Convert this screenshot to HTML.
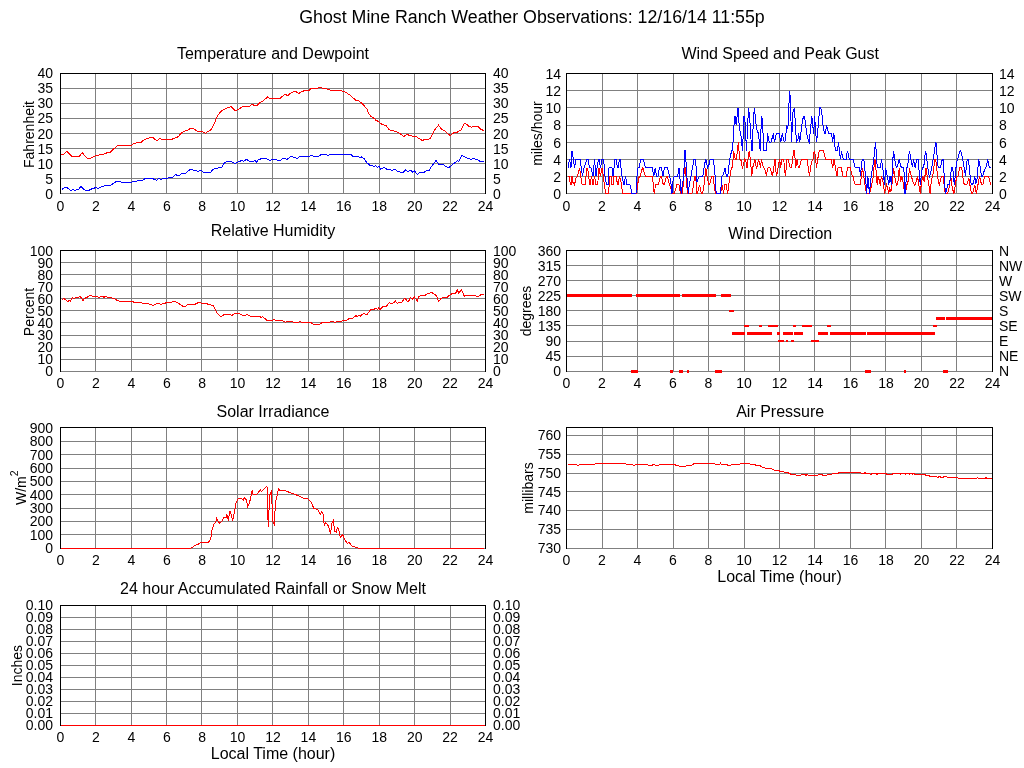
<!DOCTYPE html>
<html><head><meta charset="utf-8"><title>Ghost Mine Ranch Weather Observations</title>
<style>
html,body{margin:0;padding:0;background:#fff;overflow:hidden;width:1024px;height:768px;}
svg{display:block;will-change:transform;}
text{font-family:"Liberation Sans",sans-serif;fill:#000;}
</style></head><body>
<svg width="1024" height="768" viewBox="0 0 1024 768">
<rect x="0" y="0" width="1024" height="768" fill="#ffffff"/>
<rect x="60" y="73" width="426" height="1" fill="#000"/>
<rect x="60" y="73" width="1" height="121" fill="#000"/>
<rect x="485" y="73" width="1" height="121" fill="#000"/>
<rect x="95" y="74" width="1" height="120" fill="#808080"/>
<rect x="131" y="74" width="1" height="120" fill="#808080"/>
<rect x="166" y="74" width="1" height="120" fill="#808080"/>
<rect x="201" y="74" width="1" height="120" fill="#808080"/>
<rect x="237" y="74" width="1" height="120" fill="#808080"/>
<rect x="272" y="74" width="1" height="120" fill="#808080"/>
<rect x="308" y="74" width="1" height="120" fill="#808080"/>
<rect x="343" y="74" width="1" height="120" fill="#808080"/>
<rect x="379" y="74" width="1" height="120" fill="#808080"/>
<rect x="414" y="74" width="1" height="120" fill="#808080"/>
<rect x="450" y="74" width="1" height="120" fill="#808080"/>
<rect x="61" y="193" width="424" height="1" fill="#808080"/>
<rect x="61" y="178" width="424" height="1" fill="#808080"/>
<rect x="61" y="163" width="424" height="1" fill="#808080"/>
<rect x="61" y="148" width="424" height="1" fill="#808080"/>
<rect x="61" y="133" width="424" height="1" fill="#808080"/>
<rect x="61" y="118" width="424" height="1" fill="#808080"/>
<rect x="61" y="103" width="424" height="1" fill="#808080"/>
<rect x="61" y="88" width="424" height="1" fill="#808080"/>
<text x="60.5" y="211" font-size="14" text-anchor="middle">0</text>
<text x="95.9" y="211" font-size="14" text-anchor="middle">2</text>
<text x="131.3" y="211" font-size="14" text-anchor="middle">4</text>
<text x="166.8" y="211" font-size="14" text-anchor="middle">6</text>
<text x="202.2" y="211" font-size="14" text-anchor="middle">8</text>
<text x="237.6" y="211" font-size="14" text-anchor="middle">10</text>
<text x="273.0" y="211" font-size="14" text-anchor="middle">12</text>
<text x="308.4" y="211" font-size="14" text-anchor="middle">14</text>
<text x="343.8" y="211" font-size="14" text-anchor="middle">16</text>
<text x="379.2" y="211" font-size="14" text-anchor="middle">18</text>
<text x="414.7" y="211" font-size="14" text-anchor="middle">20</text>
<text x="450.1" y="211" font-size="14" text-anchor="middle">22</text>
<text x="485.5" y="211" font-size="14" text-anchor="middle">24</text>
<text x="53" y="199" font-size="14" text-anchor="end">0</text>
<text x="493" y="199" font-size="14" text-anchor="start">0</text>
<text x="53" y="184" font-size="14" text-anchor="end">5</text>
<text x="493" y="184" font-size="14" text-anchor="start">5</text>
<text x="53" y="169" font-size="14" text-anchor="end">10</text>
<text x="493" y="169" font-size="14" text-anchor="start">10</text>
<text x="53" y="154" font-size="14" text-anchor="end">15</text>
<text x="493" y="154" font-size="14" text-anchor="start">15</text>
<text x="53" y="139" font-size="14" text-anchor="end">20</text>
<text x="493" y="139" font-size="14" text-anchor="start">20</text>
<text x="53" y="123" font-size="14" text-anchor="end">25</text>
<text x="493" y="123" font-size="14" text-anchor="start">25</text>
<text x="53" y="108" font-size="14" text-anchor="end">30</text>
<text x="493" y="108" font-size="14" text-anchor="start">30</text>
<text x="53" y="93" font-size="14" text-anchor="end">35</text>
<text x="493" y="93" font-size="14" text-anchor="start">35</text>
<text x="53" y="78" font-size="14" text-anchor="end">40</text>
<text x="493" y="78" font-size="14" text-anchor="start">40</text>
<text x="273.0" y="59" font-size="16" text-anchor="middle">Temperature and Dewpoint</text>
<text transform="translate(34.3,134.5) rotate(-90)" font-size="14" text-anchor="middle">Fahrenheit</text>
<polyline points="61.47,154.69 63.81,154.38 66.94,151.25 69.28,153.59 71.62,156.41 79.44,156.41 82.25,152.34 84.91,155.94 87.25,158.59 89.59,158.59 95.06,155.94 99.75,154.84 102.88,154.38 106.00,153.12 110.69,152.03 113.81,148.91 117.72,145.47 131.00,145.47 134.12,143.44 137.25,142.66 141.16,142.19 144.28,139.53 147.41,138.75 149.75,137.50 153.19,137.50 155.22,139.53 157.25,140.62 159.91,138.28 162.25,139.53 170.84,139.53 174.75,138.28 178.66,136.41 181.00,133.28 183.34,131.72 186.47,130.62 190.38,128.59 193.50,128.59 197.41,131.25 202.09,131.41 205.22,133.28 208.34,131.41 211.47,129.38 213.81,124.69 215.69,120.31 216.00,119.44 217.56,115.84 219.91,112.72 222.25,110.38 226.94,108.03 231.31,106.47 233.19,108.81 234.75,110.38 237.09,110.06 239.44,108.81 242.56,106.47 249.59,106.16 251.94,104.12 254.28,105.38 256.94,105.38 259.75,102.56 262.88,101.00 267.56,97.09 269.91,98.34 280.06,98.34 282.41,96.31 284.75,94.28 287.88,95.53 291.00,92.88 294.12,91.31 296.47,91.94 298.81,93.50 301.94,91.62 305.06,90.38 308.97,90.38 311.31,88.50 317.56,88.19 319.91,87.25 322.25,88.19 325.38,88.50 328.50,89.28 330.84,90.53 333.97,90.06 336.31,90.38 340.22,90.53 344.12,91.62 347.25,93.19 350.38,95.53 353.50,98.34 355.84,100.22 358.19,100.22 361.31,102.88 364.44,106.00 366.78,108.81 368.34,112.72 370.69,116.31 373.81,118.19 375.69,119.44 376.00,120.53 378.34,121.31 381.47,124.12 386.16,125.69 389.28,129.91 392.41,130.69 396.31,131.47 400.22,133.81 403.81,136.62 407.25,134.12 409.59,135.84 413.50,136.16 415.84,136.16 418.97,138.50 422.09,140.38 424.44,139.75 427.56,139.75 430.38,138.50 432.25,134.59 434.59,129.91 438.50,125.22 441.62,129.12 444.75,131.00 447.88,134.12 450.22,135.38 453.34,133.03 457.25,132.25 461.16,129.91 464.28,123.19 466.62,124.12 468.97,126.31 471.31,127.25 474.44,126.31 477.56,126.31 480.69,129.12 483.81,130.69" fill="none" stroke="#ff0000" stroke-width="1" shape-rendering="crispEdges"/>
<polyline points="62.25,189.44 64.59,187.25 66.94,187.56 70.84,190.69 73.19,189.44 74.75,190.38 78.66,189.12 81.00,186.31 82.56,188.34 85.69,190.69 88.03,190.69 91.94,188.81 95.84,187.56 98.19,188.34 101.31,186.78 106.00,185.53 109.91,185.53 113.03,183.66 116.16,181.62 120.06,181.62 121.62,182.56 130.22,182.56 132.56,181.62 135.69,181.31 138.81,180.53 141.94,180.53 145.06,178.66 152.88,178.66 156.78,180.53 158.34,178.50 160.69,179.44 163.03,178.50 166.94,178.50 170.06,177.41 172.41,177.41 175.53,174.28 177.09,175.53 179.44,175.38 181.78,173.50 183.34,173.97 185.69,173.19 188.81,170.38 191.16,169.28 193.50,170.38 196.62,170.69 198.19,171.62 199.75,170.38 201.31,170.69 203.66,172.41 210.69,172.41 213.03,169.28 215.69,168.50 216.00,168.19 221.47,167.72 223.81,163.50 226.94,161.62 231.62,161.62 234.44,163.50 237.09,162.41 239.44,161.62 241.78,160.38 243.81,161.16 246.47,159.28 249.59,161.47 253.50,161.16 255.06,160.38 256.62,162.41 258.19,159.59 261.31,158.81 263.66,158.03 267.56,159.28 269.91,160.38 272.25,159.28 276.16,159.59 277.72,160.38 280.06,160.38 283.97,158.03 287.09,159.28 291.00,156.47 294.12,157.25 297.25,158.34 300.38,156.16 302.72,156.94 305.06,156.16 309.75,156.16 311.31,155.38 313.66,156.47 318.34,156.47 321.47,154.44 325.38,154.44 327.72,155.38 330.84,154.12 333.97,154.91 337.09,154.12 340.22,154.91 342.56,154.12 345.69,154.91 348.03,154.12 350.38,154.12 352.72,156.16 358.19,156.47 359.75,158.03 361.31,156.94 364.44,158.81 366.78,162.72 369.12,164.59 370.69,165.84 372.25,165.06 373.81,166.62 375.69,165.84 376.00,165.84 377.56,167.41 379.12,166.31 380.38,169.28 383.81,167.41 386.94,169.28 391.62,170.22 395.53,169.75 397.09,171.31 401.78,172.41 403.34,172.41 405.69,169.75 408.03,171.78 410.38,170.22 412.72,172.09 414.28,170.53 417.41,174.44 419.75,172.41 424.44,172.09 426.78,170.22 429.12,170.22 431.47,166.62 436.16,160.38 438.50,163.97 440.84,165.06 443.19,163.97 444.75,165.84 447.88,167.72 450.22,166.62 453.34,163.50 455.69,162.41 457.25,160.38 458.81,161.62 461.62,155.38 463.50,156.16 466.62,157.72 470.53,159.28 473.66,158.50 476.00,159.28 478.34,160.06 480.69,161.94 483.81,161.47" fill="none" stroke="#0000ff" stroke-width="1" shape-rendering="crispEdges"/>
<rect x="60" y="250" width="426" height="1" fill="#000"/>
<rect x="60" y="250" width="1" height="122" fill="#000"/>
<rect x="485" y="250" width="1" height="122" fill="#000"/>
<rect x="95" y="251" width="1" height="121" fill="#808080"/>
<rect x="131" y="251" width="1" height="121" fill="#808080"/>
<rect x="166" y="251" width="1" height="121" fill="#808080"/>
<rect x="201" y="251" width="1" height="121" fill="#808080"/>
<rect x="237" y="251" width="1" height="121" fill="#808080"/>
<rect x="272" y="251" width="1" height="121" fill="#808080"/>
<rect x="308" y="251" width="1" height="121" fill="#808080"/>
<rect x="343" y="251" width="1" height="121" fill="#808080"/>
<rect x="379" y="251" width="1" height="121" fill="#808080"/>
<rect x="414" y="251" width="1" height="121" fill="#808080"/>
<rect x="450" y="251" width="1" height="121" fill="#808080"/>
<rect x="61" y="371" width="424" height="1" fill="#808080"/>
<rect x="61" y="359" width="424" height="1" fill="#808080"/>
<rect x="61" y="347" width="424" height="1" fill="#808080"/>
<rect x="61" y="335" width="424" height="1" fill="#808080"/>
<rect x="61" y="322" width="424" height="1" fill="#808080"/>
<rect x="61" y="310" width="424" height="1" fill="#808080"/>
<rect x="61" y="298" width="424" height="1" fill="#808080"/>
<rect x="61" y="286" width="424" height="1" fill="#808080"/>
<rect x="61" y="274" width="424" height="1" fill="#808080"/>
<rect x="61" y="262" width="424" height="1" fill="#808080"/>
<text x="60.5" y="388" font-size="14" text-anchor="middle">0</text>
<text x="95.9" y="388" font-size="14" text-anchor="middle">2</text>
<text x="131.3" y="388" font-size="14" text-anchor="middle">4</text>
<text x="166.8" y="388" font-size="14" text-anchor="middle">6</text>
<text x="202.2" y="388" font-size="14" text-anchor="middle">8</text>
<text x="237.6" y="388" font-size="14" text-anchor="middle">10</text>
<text x="273.0" y="388" font-size="14" text-anchor="middle">12</text>
<text x="308.4" y="388" font-size="14" text-anchor="middle">14</text>
<text x="343.8" y="388" font-size="14" text-anchor="middle">16</text>
<text x="379.2" y="388" font-size="14" text-anchor="middle">18</text>
<text x="414.7" y="388" font-size="14" text-anchor="middle">20</text>
<text x="450.1" y="388" font-size="14" text-anchor="middle">22</text>
<text x="485.5" y="388" font-size="14" text-anchor="middle">24</text>
<text x="53" y="376" font-size="14" text-anchor="end">0</text>
<text x="493" y="376" font-size="14" text-anchor="start">0</text>
<text x="53" y="364" font-size="14" text-anchor="end">10</text>
<text x="493" y="364" font-size="14" text-anchor="start">10</text>
<text x="53" y="352" font-size="14" text-anchor="end">20</text>
<text x="493" y="352" font-size="14" text-anchor="start">20</text>
<text x="53" y="340" font-size="14" text-anchor="end">30</text>
<text x="493" y="340" font-size="14" text-anchor="start">30</text>
<text x="53" y="328" font-size="14" text-anchor="end">40</text>
<text x="493" y="328" font-size="14" text-anchor="start">40</text>
<text x="53" y="316" font-size="14" text-anchor="end">50</text>
<text x="493" y="316" font-size="14" text-anchor="start">50</text>
<text x="53" y="304" font-size="14" text-anchor="end">60</text>
<text x="493" y="304" font-size="14" text-anchor="start">60</text>
<text x="53" y="292" font-size="14" text-anchor="end">70</text>
<text x="493" y="292" font-size="14" text-anchor="start">70</text>
<text x="53" y="280" font-size="14" text-anchor="end">80</text>
<text x="493" y="280" font-size="14" text-anchor="start">80</text>
<text x="53" y="268" font-size="14" text-anchor="end">90</text>
<text x="493" y="268" font-size="14" text-anchor="start">90</text>
<text x="53" y="256" font-size="14" text-anchor="end">100</text>
<text x="493" y="256" font-size="14" text-anchor="start">100</text>
<text x="273.0" y="236" font-size="16" text-anchor="middle">Relative Humidity</text>
<text transform="translate(34,312.0) rotate(-90)" font-size="14" text-anchor="middle">Percent</text>
<polyline points="62.25,299.53 63.81,298.44 67.72,301.56 69.28,300.31 70.38,301.56 72.41,297.50 73.97,298.44 76.31,297.19 78.66,297.19 80.22,296.09 82.88,300.62 84.91,298.28 87.25,297.19 90.06,295.16 92.72,296.41 97.41,296.41 98.97,297.50 102.09,296.09 104.12,297.50 105.69,296.09 107.56,297.50 110.69,297.50 114.59,298.75 116.94,300.31 120.06,301.41 132.56,301.41 134.12,302.34 141.16,302.34 142.72,303.44 147.41,303.44 149.75,304.53 152.09,305.00 153.66,305.47 156.78,303.44 159.12,303.44 161.00,304.53 163.81,303.44 166.94,302.66 171.62,302.34 173.97,301.09 177.09,302.34 180.22,304.53 183.34,306.56 184.91,306.56 188.03,304.53 195.06,304.22 198.97,302.34 202.09,303.44 206.78,303.44 208.34,304.53 213.03,305.47 215.38,309.69 216.00,311.25 217.56,313.59 220.69,316.72 224.59,314.38 230.06,314.38 231.62,315.47 235.53,313.28 237.09,314.06 238.66,313.28 242.56,315.47 244.91,315.47 246.94,314.38 250.38,316.41 259.75,316.41 261.31,317.50 262.56,316.41 266.78,320.31 272.25,320.31 273.81,319.38 275.38,320.31 281.62,320.31 283.97,321.41 285.53,322.19 287.88,321.41 291.78,321.41 293.34,322.19 298.81,322.19 300.06,321.09 301.16,322.19 310.53,322.19 313.66,324.53 319.12,324.53 322.25,322.50 329.28,322.19 330.84,321.41 333.19,321.41 334.75,322.50 337.09,321.41 341.00,321.41 343.34,320.31 346.47,320.31 349.59,318.28 352.72,318.28 355.84,315.62 357.41,316.72 358.97,315.16 360.53,316.25 362.09,314.38 364.44,313.59 366.78,314.69 370.69,309.69 373.81,309.69 375.69,308.12 376.00,308.12 377.56,309.69 378.81,307.81 379.91,309.69 383.03,306.56 386.16,306.56 389.28,302.66 391.62,303.44 393.97,302.66 395.53,301.09 397.09,303.44 399.44,302.34 401.78,302.34 404.91,297.97 407.25,301.09 408.81,301.09 410.38,297.50 412.25,299.53 414.28,296.88 417.41,301.09 418.97,296.41 422.88,295.16 424.44,295.62 426.78,294.06 429.12,293.75 431.00,292.03 434.59,294.38 436.94,296.41 438.50,301.09 440.06,300.31 440.84,298.75 443.97,296.88 445.53,297.97 447.09,297.97 448.66,295.62 451.00,294.38 452.56,293.28 455.69,293.28 457.25,289.69 458.81,293.28 461.16,289.69 462.72,292.50 464.28,296.09 468.19,295.31 475.22,295.31 476.78,296.41 479.12,296.09 480.69,294.84 483.81,294.38" fill="none" stroke="#ff0000" stroke-width="1" shape-rendering="crispEdges"/>
<rect x="60" y="427" width="426" height="1" fill="#000"/>
<rect x="60" y="427" width="1" height="122" fill="#000"/>
<rect x="485" y="427" width="1" height="122" fill="#000"/>
<rect x="95" y="428" width="1" height="121" fill="#808080"/>
<rect x="131" y="428" width="1" height="121" fill="#808080"/>
<rect x="166" y="428" width="1" height="121" fill="#808080"/>
<rect x="201" y="428" width="1" height="121" fill="#808080"/>
<rect x="237" y="428" width="1" height="121" fill="#808080"/>
<rect x="272" y="428" width="1" height="121" fill="#808080"/>
<rect x="308" y="428" width="1" height="121" fill="#808080"/>
<rect x="343" y="428" width="1" height="121" fill="#808080"/>
<rect x="379" y="428" width="1" height="121" fill="#808080"/>
<rect x="414" y="428" width="1" height="121" fill="#808080"/>
<rect x="450" y="428" width="1" height="121" fill="#808080"/>
<rect x="61" y="548" width="424" height="1" fill="#808080"/>
<rect x="61" y="534" width="424" height="1" fill="#808080"/>
<rect x="61" y="521" width="424" height="1" fill="#808080"/>
<rect x="61" y="508" width="424" height="1" fill="#808080"/>
<rect x="61" y="494" width="424" height="1" fill="#808080"/>
<rect x="61" y="481" width="424" height="1" fill="#808080"/>
<rect x="61" y="468" width="424" height="1" fill="#808080"/>
<rect x="61" y="454" width="424" height="1" fill="#808080"/>
<rect x="61" y="441" width="424" height="1" fill="#808080"/>
<text x="60.5" y="565" font-size="14" text-anchor="middle">0</text>
<text x="95.9" y="565" font-size="14" text-anchor="middle">2</text>
<text x="131.3" y="565" font-size="14" text-anchor="middle">4</text>
<text x="166.8" y="565" font-size="14" text-anchor="middle">6</text>
<text x="202.2" y="565" font-size="14" text-anchor="middle">8</text>
<text x="237.6" y="565" font-size="14" text-anchor="middle">10</text>
<text x="273.0" y="565" font-size="14" text-anchor="middle">12</text>
<text x="308.4" y="565" font-size="14" text-anchor="middle">14</text>
<text x="343.8" y="565" font-size="14" text-anchor="middle">16</text>
<text x="379.2" y="565" font-size="14" text-anchor="middle">18</text>
<text x="414.7" y="565" font-size="14" text-anchor="middle">20</text>
<text x="450.1" y="565" font-size="14" text-anchor="middle">22</text>
<text x="485.5" y="565" font-size="14" text-anchor="middle">24</text>
<text x="53" y="553" font-size="14" text-anchor="end">0</text>
<text x="53" y="540" font-size="14" text-anchor="end">100</text>
<text x="53" y="526" font-size="14" text-anchor="end">200</text>
<text x="53" y="513" font-size="14" text-anchor="end">300</text>
<text x="53" y="500" font-size="14" text-anchor="end">400</text>
<text x="53" y="486" font-size="14" text-anchor="end">500</text>
<text x="53" y="473" font-size="14" text-anchor="end">600</text>
<text x="53" y="460" font-size="14" text-anchor="end">700</text>
<text x="53" y="446" font-size="14" text-anchor="end">800</text>
<text x="53" y="433" font-size="14" text-anchor="end">900</text>
<text x="273.0" y="417" font-size="16" text-anchor="middle">Solar Irradiance</text>
<text transform="translate(0,488.0) rotate(-90)" font-size="14" text-anchor="middle"></text>
<text transform="translate(26,487.7) rotate(-90)" font-size="14" text-anchor="middle">W/m<tspan font-size="10.5" dy="-8">2</tspan></text>
<polyline points="61.50,548.30 180.00,548.28 190.55,548.28 194.06,546.17 198.75,543.83 200.51,542.42 205.78,542.07 208.12,542.66 209.88,540.31 211.05,536.80 211.64,530.94 213.98,523.91 215.74,522.15 216.56,518.28 218.09,521.56 219.84,523.32 222.19,520.98 223.95,517.46 226.29,517.46 226.88,515.12 228.63,520.62 229.45,511.25 230.39,511.60 232.73,520.39 233.32,517.46 235.08,508.67 235.66,503.40 238.01,498.71 240.35,498.12 243.28,499.88 244.45,497.54 246.21,499.88 247.73,506.33 249.14,503.40 250.90,497.54 251.48,491.68 252.42,490.51 252.89,494.02 256.76,494.61 260.27,489.92 261.45,491.68 266.72,486.41 267.30,487.58 267.66,514.53 268.48,526.84 269.06,508.67 269.65,495.20 271.41,491.68 271.99,503.98 272.58,521.56 274.34,524.49 275.51,501.64 277.27,494.61 278.44,488.52 279.61,490.51 284.30,490.51 290.00,492.50 297.03,495.20 303.48,498.36 307.58,498.36 311.09,502.23 314.02,508.67 317.54,509.26 320.47,514.30 321.64,511.60 323.40,514.53 324.22,525.08 325.74,522.97 327.50,524.14 329.26,528.59 330.43,533.87 331.95,523.32 333.36,520.39 334.53,530.94 336.29,532.34 337.46,527.42 338.63,528.59 339.45,534.45 340.62,537.38 342.73,534.45 344.49,539.14 347.42,543.59 349.18,542.42 352.11,546.17 355.62,547.34 359.14,548.28 409.77,548.28 484.50,548.30" fill="none" stroke="#ff0000" stroke-width="1" shape-rendering="crispEdges"/>
<rect x="60" y="605" width="426" height="1" fill="#000"/>
<rect x="60" y="605" width="1" height="121" fill="#000"/>
<rect x="485" y="605" width="1" height="121" fill="#000"/>
<rect x="95" y="606" width="1" height="120" fill="#808080"/>
<rect x="131" y="606" width="1" height="120" fill="#808080"/>
<rect x="166" y="606" width="1" height="120" fill="#808080"/>
<rect x="201" y="606" width="1" height="120" fill="#808080"/>
<rect x="237" y="606" width="1" height="120" fill="#808080"/>
<rect x="272" y="606" width="1" height="120" fill="#808080"/>
<rect x="308" y="606" width="1" height="120" fill="#808080"/>
<rect x="343" y="606" width="1" height="120" fill="#808080"/>
<rect x="379" y="606" width="1" height="120" fill="#808080"/>
<rect x="414" y="606" width="1" height="120" fill="#808080"/>
<rect x="450" y="606" width="1" height="120" fill="#808080"/>
<rect x="61" y="725" width="424" height="1" fill="#808080"/>
<rect x="61" y="713" width="424" height="1" fill="#808080"/>
<rect x="61" y="701" width="424" height="1" fill="#808080"/>
<rect x="61" y="689" width="424" height="1" fill="#808080"/>
<rect x="61" y="677" width="424" height="1" fill="#808080"/>
<rect x="61" y="665" width="424" height="1" fill="#808080"/>
<rect x="61" y="653" width="424" height="1" fill="#808080"/>
<rect x="61" y="641" width="424" height="1" fill="#808080"/>
<rect x="61" y="629" width="424" height="1" fill="#808080"/>
<rect x="61" y="617" width="424" height="1" fill="#808080"/>
<text x="60.5" y="742" font-size="14" text-anchor="middle">0</text>
<text x="95.9" y="742" font-size="14" text-anchor="middle">2</text>
<text x="131.3" y="742" font-size="14" text-anchor="middle">4</text>
<text x="166.8" y="742" font-size="14" text-anchor="middle">6</text>
<text x="202.2" y="742" font-size="14" text-anchor="middle">8</text>
<text x="237.6" y="742" font-size="14" text-anchor="middle">10</text>
<text x="273.0" y="742" font-size="14" text-anchor="middle">12</text>
<text x="308.4" y="742" font-size="14" text-anchor="middle">14</text>
<text x="343.8" y="742" font-size="14" text-anchor="middle">16</text>
<text x="379.2" y="742" font-size="14" text-anchor="middle">18</text>
<text x="414.7" y="742" font-size="14" text-anchor="middle">20</text>
<text x="450.1" y="742" font-size="14" text-anchor="middle">22</text>
<text x="485.5" y="742" font-size="14" text-anchor="middle">24</text>
<text x="53" y="730" font-size="14" text-anchor="end">0.00</text>
<text x="493" y="730" font-size="14" text-anchor="start">0.00</text>
<text x="53" y="718" font-size="14" text-anchor="end">0.01</text>
<text x="493" y="718" font-size="14" text-anchor="start">0.01</text>
<text x="53" y="706" font-size="14" text-anchor="end">0.02</text>
<text x="493" y="706" font-size="14" text-anchor="start">0.02</text>
<text x="53" y="694" font-size="14" text-anchor="end">0.03</text>
<text x="493" y="694" font-size="14" text-anchor="start">0.03</text>
<text x="53" y="682" font-size="14" text-anchor="end">0.04</text>
<text x="493" y="682" font-size="14" text-anchor="start">0.04</text>
<text x="53" y="670" font-size="14" text-anchor="end">0.05</text>
<text x="493" y="670" font-size="14" text-anchor="start">0.05</text>
<text x="53" y="658" font-size="14" text-anchor="end">0.06</text>
<text x="493" y="658" font-size="14" text-anchor="start">0.06</text>
<text x="53" y="646" font-size="14" text-anchor="end">0.07</text>
<text x="493" y="646" font-size="14" text-anchor="start">0.07</text>
<text x="53" y="634" font-size="14" text-anchor="end">0.08</text>
<text x="493" y="634" font-size="14" text-anchor="start">0.08</text>
<text x="53" y="622" font-size="14" text-anchor="end">0.09</text>
<text x="493" y="622" font-size="14" text-anchor="start">0.09</text>
<text x="53" y="610" font-size="14" text-anchor="end">0.10</text>
<text x="493" y="610" font-size="14" text-anchor="start">0.10</text>
<text x="273.0" y="594" font-size="16" text-anchor="middle">24 hour Accumulated Rainfall or Snow Melt</text>
<text transform="translate(21.7,665.5) rotate(-90)" font-size="14" text-anchor="middle">Inches</text>
<text x="273.0" y="759" font-size="16" text-anchor="middle">Local Time (hour)</text>
<rect x="61" y="725" width="424" height="1" fill="#ff0000"/>
<rect x="566" y="73" width="427" height="1" fill="#000"/>
<rect x="566" y="73" width="1" height="121" fill="#000"/>
<rect x="992" y="73" width="1" height="121" fill="#000"/>
<rect x="602" y="74" width="1" height="120" fill="#808080"/>
<rect x="637" y="74" width="1" height="120" fill="#808080"/>
<rect x="673" y="74" width="1" height="120" fill="#808080"/>
<rect x="708" y="74" width="1" height="120" fill="#808080"/>
<rect x="744" y="74" width="1" height="120" fill="#808080"/>
<rect x="779" y="74" width="1" height="120" fill="#808080"/>
<rect x="814" y="74" width="1" height="120" fill="#808080"/>
<rect x="850" y="74" width="1" height="120" fill="#808080"/>
<rect x="885" y="74" width="1" height="120" fill="#808080"/>
<rect x="921" y="74" width="1" height="120" fill="#808080"/>
<rect x="956" y="74" width="1" height="120" fill="#808080"/>
<rect x="567" y="193" width="425" height="1" fill="#808080"/>
<rect x="567" y="176" width="425" height="1" fill="#808080"/>
<rect x="567" y="159" width="425" height="1" fill="#808080"/>
<rect x="567" y="142" width="425" height="1" fill="#808080"/>
<rect x="567" y="125" width="425" height="1" fill="#808080"/>
<rect x="567" y="107" width="425" height="1" fill="#808080"/>
<rect x="567" y="90" width="425" height="1" fill="#808080"/>
<text x="566.5" y="211" font-size="14" text-anchor="middle">0</text>
<text x="602.0" y="211" font-size="14" text-anchor="middle">2</text>
<text x="637.5" y="211" font-size="14" text-anchor="middle">4</text>
<text x="673.0" y="211" font-size="14" text-anchor="middle">6</text>
<text x="708.5" y="211" font-size="14" text-anchor="middle">8</text>
<text x="744.0" y="211" font-size="14" text-anchor="middle">10</text>
<text x="779.5" y="211" font-size="14" text-anchor="middle">12</text>
<text x="815.0" y="211" font-size="14" text-anchor="middle">14</text>
<text x="850.5" y="211" font-size="14" text-anchor="middle">16</text>
<text x="886.0" y="211" font-size="14" text-anchor="middle">18</text>
<text x="921.5" y="211" font-size="14" text-anchor="middle">20</text>
<text x="957.0" y="211" font-size="14" text-anchor="middle">22</text>
<text x="992.5" y="211" font-size="14" text-anchor="middle">24</text>
<text x="561" y="199" font-size="14" text-anchor="end">0</text>
<text x="999" y="199" font-size="14" text-anchor="start">0</text>
<text x="561" y="182" font-size="14" text-anchor="end">2</text>
<text x="999" y="182" font-size="14" text-anchor="start">2</text>
<text x="561" y="165" font-size="14" text-anchor="end">4</text>
<text x="999" y="165" font-size="14" text-anchor="start">4</text>
<text x="561" y="148" font-size="14" text-anchor="end">6</text>
<text x="999" y="148" font-size="14" text-anchor="start">6</text>
<text x="561" y="130" font-size="14" text-anchor="end">8</text>
<text x="999" y="130" font-size="14" text-anchor="start">8</text>
<text x="561" y="113" font-size="14" text-anchor="end">10</text>
<text x="999" y="113" font-size="14" text-anchor="start">10</text>
<text x="561" y="96" font-size="14" text-anchor="end">12</text>
<text x="999" y="96" font-size="14" text-anchor="start">12</text>
<text x="561" y="79" font-size="14" text-anchor="end">14</text>
<text x="999" y="79" font-size="14" text-anchor="start">14</text>
<text x="780.2" y="59" font-size="16" text-anchor="middle">Wind Speed and Peak Gust</text>
<text transform="translate(542,133.5) rotate(-90)" font-size="14" text-anchor="middle">miles/hour</text>
<polyline points="568.00,176.36 569.00,176.36 570.00,182.36 571.00,184.93 572.00,176.36 573.00,182.36 574.50,184.93 576.00,178.07 577.50,176.36 579.50,167.79 581.00,178.07 582.00,184.07 584.00,184.93 585.00,184.93 586.00,176.36 587.00,167.79 588.00,171.21 589.00,178.93 590.00,184.93 591.50,176.36 593.00,184.93 594.50,176.36 596.00,184.93 597.00,184.93 598.00,180.64 599.00,167.79 600.50,176.36 602.00,167.79 603.00,173.79 604.00,182.36 605.00,189.21 606.00,193.50 608.50,193.50 609.50,180.64 610.00,176.36 611.00,176.36 612.00,184.93 613.00,184.93 614.00,176.36 616.00,176.36 617.00,181.50 618.00,184.93 619.50,176.36 621.00,182.36 622.00,189.21 623.00,193.50 636.00,193.50 637.30,189.21 638.30,179.79 639.40,176.36 640.40,176.36 641.50,170.36 642.90,167.79 644.30,172.93 645.70,176.36 652.40,176.36 653.10,183.21 654.20,193.50 655.60,184.93 656.60,184.93 658.40,184.93 659.40,180.64 660.50,176.36 661.50,176.36 662.60,182.36 663.60,184.93 664.30,184.93 665.40,179.79 666.50,176.36 667.50,176.36 668.60,181.50 669.60,184.93 670.70,188.36 672.40,193.50 674.20,193.50 675.60,189.21 676.70,184.93 679.00,184.93 679.80,189.21 680.50,193.50 682.30,193.50 683.30,184.93 684.40,167.79 685.40,167.79 686.50,183.21 687.60,193.50 691.80,193.50 692.50,190.93 693.50,184.93 694.60,176.36 695.60,176.36 696.30,184.93 697.00,193.50 698.50,190.07 699.50,184.93 700.60,190.07 701.40,193.50 702.50,193.50 703.50,188.36 704.60,180.64 705.80,167.79 707.00,176.36 708.80,184.93 709.50,184.93 710.50,180.64 711.60,176.36 713.00,176.36 714.40,186.64 715.50,193.50 720.50,193.50 721.40,189.21 722.30,184.93 723.60,193.50 724.60,184.93 726.40,184.93 727.40,193.50 728.10,190.93 729.20,181.50 730.60,172.07 731.60,167.79 732.30,167.79 732.70,163.50 733.80,150.64 734.50,156.64 735.50,159.21 736.60,159.21 737.30,150.64 738.30,142.07 739.00,150.64 739.70,159.21 740.80,159.21 741.50,163.50 742.50,167.79 743.60,164.36 744.70,159.21 745.70,160.07 747.00,167.79 748.20,157.50 749.20,150.64 750.60,161.79 751.70,176.36 752.70,167.79 753.80,163.50 754.90,159.21 755.60,164.36 756.60,167.79 757.30,166.07 758.60,159.21 759.80,163.50 760.50,167.79 761.50,159.21 762.60,164.36 763.60,167.79 764.70,168.64 765.80,172.93 766.50,176.36 767.50,168.64 768.60,167.79 770.00,167.79 771.20,172.07 772.30,176.36 773.60,169.50 775.00,159.21 776.40,176.36 777.50,171.21 778.50,164.36 779.60,159.21 780.70,167.79 781.70,159.21 783.80,159.21 784.50,170.36 785.60,176.36 786.30,165.21 787.00,159.21 788.40,159.21 789.40,166.07 790.50,167.79 791.20,167.79 792.30,162.64 793.60,150.64 794.40,150.64 795.10,159.21 795.80,167.79 796.80,160.93 797.50,159.21 798.20,167.79 799.30,167.79 800.30,164.36 801.40,159.21 807.40,159.21 808.40,169.50 809.50,176.36 810.50,167.79 811.60,161.79 813.00,159.21 814.30,150.64 815.30,154.93 816.50,167.79 817.20,162.64 818.30,155.79 819.30,150.64 823.60,150.64 824.60,155.79 825.70,159.21 831.30,159.21 832.00,163.50 832.70,167.79 834.00,159.21 835.20,166.07 836.20,172.07 837.00,176.36 838.00,167.79 841.30,167.79 842.30,172.93 843.00,176.36 846.20,176.36 846.90,171.21 847.60,167.79 850.40,167.79 851.50,172.93 852.50,176.36 853.20,176.36 854.30,182.36 855.30,184.93 860.30,184.93 861.30,177.21 862.40,167.79 863.40,173.79 864.50,181.50 865.50,188.36 866.60,193.50 869.50,193.50 870.50,190.07 871.50,184.93 872.60,181.50 873.60,172.07 874.70,159.21 875.40,160.93 876.40,176.36 877.20,184.93 878.00,176.36 878.70,176.36 879.40,183.21 880.30,184.93 881.40,176.36 882.40,179.79 883.50,184.07 884.50,193.50 885.60,188.36 886.60,184.93 887.70,188.36 888.70,193.50 889.80,188.36 890.90,191.79 891.90,184.93 892.80,176.36 893.70,167.79 894.50,174.64 895.60,181.50 896.80,184.93 897.90,182.36 899.20,167.79 900.60,182.36 901.90,176.36 903.50,184.93 904.60,193.50 905.60,193.50 906.50,184.93 907.50,184.93 908.40,178.93 909.50,167.79 910.50,173.79 911.40,176.36 912.40,179.79 913.50,183.21 914.50,184.93 915.50,184.07 916.50,179.79 917.40,176.36 918.40,181.50 919.50,189.21 920.20,193.50 921.40,183.21 922.80,176.36 924.40,182.36 925.40,171.21 925.90,167.79 927.30,176.36 928.50,182.36 929.50,190.07 930.20,193.50 931.40,179.79 932.50,176.36 933.50,172.07 934.60,159.21 935.60,159.21 936.50,165.21 937.40,174.64 938.50,182.36 939.50,184.93 940.60,178.93 941.60,176.36 943.00,176.36 943.70,180.64 944.60,190.07 945.50,193.50 947.60,193.50 948.70,190.07 949.70,183.21 950.80,176.36 951.80,184.93 952.90,190.07 953.90,193.50 954.60,190.07 955.70,182.36 956.70,176.36 957.80,176.36 958.50,173.79 959.50,167.79 961.70,167.79 962.50,173.79 963.60,182.36 964.50,184.93 966.60,184.93 967.60,183.21 968.70,178.07 969.50,181.50 970.50,189.21 971.50,193.50 972.60,193.50 973.60,189.21 974.70,184.93 975.70,190.07 976.30,193.50 977.30,188.36 978.40,182.36 979.40,176.36 980.50,179.79 981.50,184.93 982.60,184.93 983.50,182.36 984.50,176.36 988.60,176.36 989.60,179.79 990.50,184.93" fill="none" stroke="#ff0000" stroke-width="1" shape-rendering="crispEdges"/>
<polyline points="568.00,167.79 569.50,159.21 571.00,167.79 572.00,150.64 573.00,156.64 574.50,167.79 576.00,159.21 580.00,159.21 582.50,176.36 584.00,167.79 585.50,163.50 587.00,159.21 588.00,159.21 589.50,167.79 591.00,167.79 593.00,176.36 594.50,159.21 596.00,176.36 597.50,163.50 599.00,159.21 600.50,167.79 602.00,159.21 603.00,159.21 604.00,163.50 605.00,176.36 606.50,184.93 608.00,184.93 609.00,167.79 612.00,167.79 613.00,176.36 614.00,167.79 615.00,159.21 616.00,159.21 617.50,167.79 618.00,167.79 619.50,159.21 620.00,159.21 621.00,167.79 622.00,176.36 624.00,184.93 625.50,176.36 627.00,184.93 630.00,184.93 631.00,189.21 632.00,193.50 636.00,193.50 637.00,176.36 638.00,167.79 639.00,167.79 639.70,164.36 640.80,159.21 643.60,159.21 644.60,165.21 645.70,167.79 652.40,167.79 653.80,176.36 655.20,167.79 656.60,176.36 658.00,176.36 659.40,167.79 661.50,167.79 663.00,176.36 664.30,167.79 667.50,167.79 668.60,172.93 669.60,176.36 670.70,181.50 672.00,193.50 673.00,180.64 674.20,176.36 677.70,176.36 679.00,167.79 680.20,180.64 681.20,193.50 682.30,184.93 683.70,176.36 684.70,150.64 685.40,150.64 686.10,163.50 687.20,180.64 688.30,193.50 689.30,184.93 690.40,178.93 691.40,173.79 692.50,167.79 693.90,159.21 695.60,159.21 696.30,171.21 697.00,182.36 698.50,177.21 699.50,176.36 702.80,176.36 704.60,164.36 705.80,159.21 707.50,167.79 709.10,164.36 710.20,159.21 713.40,159.21 714.80,172.07 716.20,193.50 720.40,193.50 722.00,176.36 723.60,173.79 725.00,167.79 726.40,176.36 727.80,176.36 729.50,160.93 731.60,150.64 732.70,150.64 733.50,129.21 735.00,116.36 736.20,124.93 738.00,107.79 739.40,129.21 740.80,133.50 742.50,150.64 744.00,116.36 744.70,116.36 746.50,150.64 748.50,107.79 749.60,116.36 751.70,150.64 752.40,150.64 753.40,116.36 754.50,107.79 755.60,120.64 756.60,129.21 758.40,133.50 760.20,150.64 761.50,116.36 762.60,120.64 763.60,150.64 766.50,150.64 767.50,133.50 769.30,142.07 771.00,142.07 772.20,137.79 773.30,133.50 774.50,142.07 776.40,133.50 779.30,133.50 780.80,142.07 782.40,133.50 783.50,140.36 784.90,142.07 785.50,137.79 786.80,124.93 787.80,129.21 788.60,116.36 789.40,90.64 790.50,99.21 791.50,142.07 793.00,112.07 794.40,107.79 795.40,124.93 796.50,142.07 798.00,139.50 798.60,133.50 799.80,142.07 801.40,129.21 802.50,120.64 803.50,116.36 804.60,116.36 805.60,124.93 806.70,133.50 808.10,139.50 809.30,142.07 810.50,129.21 811.80,116.36 812.70,124.93 813.70,133.50 814.60,116.36 815.50,129.21 816.50,142.07 817.60,133.50 818.60,120.64 819.70,107.79 820.70,107.79 821.80,112.07 822.50,120.64 823.60,129.21 824.80,133.50 825.30,133.50 826.60,124.93 827.80,130.07 828.80,133.50 831.60,133.50 832.50,142.07 833.80,133.50 834.50,137.79 835.20,150.64 837.40,150.64 838.50,142.07 839.50,152.36 840.60,159.21 841.50,150.64 842.50,156.64 843.40,159.21 846.20,159.21 846.80,154.07 847.60,150.64 848.50,156.64 849.40,159.21 853.20,159.21 854.40,164.36 855.30,167.79 859.60,167.79 860.50,176.36 861.50,163.50 862.40,159.21 863.80,159.21 864.50,165.21 865.50,176.36 866.60,193.50 867.90,176.36 869.40,193.50 870.50,182.36 871.50,174.64 872.60,167.79 873.60,161.79 874.50,152.36 875.50,142.07 876.40,154.93 877.30,167.79 880.30,167.79 881.00,163.50 881.60,159.21 882.40,166.07 883.50,173.79 884.50,184.93 885.60,167.79 886.60,172.93 887.70,178.07 888.70,184.93 890.00,176.36 891.60,184.93 892.60,163.50 893.50,150.64 894.50,156.64 895.60,165.21 896.80,167.79 897.90,164.36 899.20,159.21 900.60,165.21 901.40,167.79 903.50,167.79 904.20,172.93 905.00,193.50 905.60,193.50 906.50,167.79 907.50,167.79 908.40,159.21 909.50,150.64 910.50,156.64 911.40,161.79 912.40,166.93 913.50,159.21 914.50,165.21 915.50,167.79 916.50,159.21 918.40,159.21 918.80,167.79 919.50,176.36 920.30,184.93 921.40,173.79 922.40,167.79 923.30,167.79 924.40,162.64 925.40,150.64 926.40,154.93 927.30,163.50 928.50,172.93 929.50,176.36 930.40,173.79 931.40,168.64 932.50,163.50 933.50,157.50 934.60,150.64 935.60,142.07 936.50,144.64 937.00,154.93 937.80,165.21 938.80,167.79 940.60,167.79 941.30,163.50 942.30,159.21 943.40,159.21 943.70,167.79 944.60,183.21 945.50,193.50 946.50,190.07 947.60,184.93 949.40,184.93 950.40,176.36 951.50,167.79 952.50,167.79 953.20,172.07 954.30,184.93 955.30,174.64 956.40,163.50 957.40,159.21 958.50,156.64 959.50,152.36 960.60,150.64 961.70,154.07 962.70,159.21 963.60,164.36 964.50,169.50 965.50,176.36 966.20,167.79 967.30,159.21 968.30,159.21 969.40,167.79 970.50,180.64 971.50,184.93 972.60,184.93 973.60,181.50 974.70,176.36 975.70,183.21 976.60,182.36 977.50,174.64 978.60,159.21 979.60,162.64 980.50,169.50 981.50,176.36 982.60,176.36 983.50,173.79 984.50,169.50 985.60,167.79 986.60,165.21 987.80,159.21 988.90,166.07 990.30,167.79" fill="none" stroke="#0000ff" stroke-width="1" shape-rendering="crispEdges"/>
<rect x="566" y="250" width="427" height="1" fill="#000"/>
<rect x="566" y="250" width="1" height="122" fill="#000"/>
<rect x="992" y="250" width="1" height="122" fill="#000"/>
<rect x="602" y="251" width="1" height="121" fill="#808080"/>
<rect x="637" y="251" width="1" height="121" fill="#808080"/>
<rect x="673" y="251" width="1" height="121" fill="#808080"/>
<rect x="708" y="251" width="1" height="121" fill="#808080"/>
<rect x="744" y="251" width="1" height="121" fill="#808080"/>
<rect x="779" y="251" width="1" height="121" fill="#808080"/>
<rect x="814" y="251" width="1" height="121" fill="#808080"/>
<rect x="850" y="251" width="1" height="121" fill="#808080"/>
<rect x="885" y="251" width="1" height="121" fill="#808080"/>
<rect x="921" y="251" width="1" height="121" fill="#808080"/>
<rect x="956" y="251" width="1" height="121" fill="#808080"/>
<rect x="567" y="371" width="425" height="1" fill="#808080"/>
<rect x="567" y="356" width="425" height="1" fill="#808080"/>
<rect x="567" y="341" width="425" height="1" fill="#808080"/>
<rect x="567" y="325" width="425" height="1" fill="#808080"/>
<rect x="567" y="310" width="425" height="1" fill="#808080"/>
<rect x="567" y="295" width="425" height="1" fill="#808080"/>
<rect x="567" y="280" width="425" height="1" fill="#808080"/>
<rect x="567" y="265" width="425" height="1" fill="#808080"/>
<text x="566.5" y="388" font-size="14" text-anchor="middle">0</text>
<text x="602.0" y="388" font-size="14" text-anchor="middle">2</text>
<text x="637.5" y="388" font-size="14" text-anchor="middle">4</text>
<text x="673.0" y="388" font-size="14" text-anchor="middle">6</text>
<text x="708.5" y="388" font-size="14" text-anchor="middle">8</text>
<text x="744.0" y="388" font-size="14" text-anchor="middle">10</text>
<text x="779.5" y="388" font-size="14" text-anchor="middle">12</text>
<text x="815.0" y="388" font-size="14" text-anchor="middle">14</text>
<text x="850.5" y="388" font-size="14" text-anchor="middle">16</text>
<text x="886.0" y="388" font-size="14" text-anchor="middle">18</text>
<text x="921.5" y="388" font-size="14" text-anchor="middle">20</text>
<text x="957.0" y="388" font-size="14" text-anchor="middle">22</text>
<text x="992.5" y="388" font-size="14" text-anchor="middle">24</text>
<text x="561" y="376" font-size="14" text-anchor="end">0</text>
<text x="999" y="376" font-size="14" text-anchor="start">N</text>
<text x="561" y="361" font-size="14" text-anchor="end">45</text>
<text x="999" y="361" font-size="14" text-anchor="start">NE</text>
<text x="561" y="346" font-size="14" text-anchor="end">90</text>
<text x="999" y="346" font-size="14" text-anchor="start">E</text>
<text x="561" y="331" font-size="14" text-anchor="end">135</text>
<text x="999" y="331" font-size="14" text-anchor="start">SE</text>
<text x="561" y="316" font-size="14" text-anchor="end">180</text>
<text x="999" y="316" font-size="14" text-anchor="start">S</text>
<text x="561" y="301" font-size="14" text-anchor="end">225</text>
<text x="999" y="301" font-size="14" text-anchor="start">SW</text>
<text x="561" y="286" font-size="14" text-anchor="end">270</text>
<text x="999" y="286" font-size="14" text-anchor="start">W</text>
<text x="561" y="271" font-size="14" text-anchor="end">315</text>
<text x="999" y="271" font-size="14" text-anchor="start">NW</text>
<text x="561" y="256" font-size="14" text-anchor="end">360</text>
<text x="999" y="256" font-size="14" text-anchor="start">N</text>
<text x="780.2" y="239" font-size="16" text-anchor="middle">Wind Direction</text>
<text transform="translate(530.5,311.0) rotate(-90)" font-size="14" text-anchor="middle">degrees</text>
<rect x="567" y="294" width="65" height="3" fill="#ff0000"/>
<rect x="636" y="294" width="44" height="3" fill="#ff0000"/>
<rect x="682" y="294" width="34" height="3" fill="#ff0000"/>
<rect x="721" y="294" width="10" height="3" fill="#ff0000"/>
<rect x="729" y="310" width="5" height="2" fill="#ff0000"/>
<rect x="744" y="325" width="5" height="2" fill="#ff0000"/>
<rect x="759" y="325" width="3" height="2" fill="#ff0000"/>
<rect x="768" y="325" width="10" height="2" fill="#ff0000"/>
<rect x="793" y="325" width="3" height="2" fill="#ff0000"/>
<rect x="802" y="325" width="10" height="2" fill="#ff0000"/>
<rect x="827" y="325" width="4" height="2" fill="#ff0000"/>
<rect x="933" y="325" width="4" height="2" fill="#ff0000"/>
<rect x="732" y="332" width="13" height="3" fill="#ff0000"/>
<rect x="747" y="332" width="25" height="3" fill="#ff0000"/>
<rect x="777" y="332" width="3" height="3" fill="#ff0000"/>
<rect x="783" y="332" width="10" height="3" fill="#ff0000"/>
<rect x="794" y="332" width="9" height="3" fill="#ff0000"/>
<rect x="818" y="332" width="10" height="3" fill="#ff0000"/>
<rect x="830" y="332" width="36" height="3" fill="#ff0000"/>
<rect x="867" y="332" width="68" height="3" fill="#ff0000"/>
<rect x="778" y="340" width="6" height="2" fill="#ff0000"/>
<rect x="786" y="340" width="2" height="2" fill="#ff0000"/>
<rect x="791" y="340" width="3" height="2" fill="#ff0000"/>
<rect x="811" y="340" width="8" height="2" fill="#ff0000"/>
<rect x="936" y="317" width="9" height="3" fill="#ff0000"/>
<rect x="946" y="317" width="46" height="3" fill="#ff0000"/>
<rect x="631" y="370" width="7" height="3" fill="#ff0000"/>
<rect x="670" y="370" width="3" height="3" fill="#ff0000"/>
<rect x="679" y="370" width="4" height="3" fill="#ff0000"/>
<rect x="687" y="370" width="2" height="3" fill="#ff0000"/>
<rect x="715" y="370" width="7" height="3" fill="#ff0000"/>
<rect x="865" y="370" width="6" height="3" fill="#ff0000"/>
<rect x="904" y="370" width="2" height="3" fill="#ff0000"/>
<rect x="943" y="370" width="5" height="3" fill="#ff0000"/>
<rect x="566" y="427" width="427" height="1" fill="#000"/>
<rect x="566" y="427" width="1" height="122" fill="#000"/>
<rect x="992" y="427" width="1" height="122" fill="#000"/>
<rect x="602" y="428" width="1" height="121" fill="#808080"/>
<rect x="637" y="428" width="1" height="121" fill="#808080"/>
<rect x="673" y="428" width="1" height="121" fill="#808080"/>
<rect x="708" y="428" width="1" height="121" fill="#808080"/>
<rect x="744" y="428" width="1" height="121" fill="#808080"/>
<rect x="779" y="428" width="1" height="121" fill="#808080"/>
<rect x="814" y="428" width="1" height="121" fill="#808080"/>
<rect x="850" y="428" width="1" height="121" fill="#808080"/>
<rect x="885" y="428" width="1" height="121" fill="#808080"/>
<rect x="921" y="428" width="1" height="121" fill="#808080"/>
<rect x="956" y="428" width="1" height="121" fill="#808080"/>
<rect x="567" y="548" width="425" height="1" fill="#808080"/>
<rect x="567" y="529" width="425" height="1" fill="#808080"/>
<rect x="567" y="510" width="425" height="1" fill="#808080"/>
<rect x="567" y="491" width="425" height="1" fill="#808080"/>
<rect x="567" y="473" width="425" height="1" fill="#808080"/>
<rect x="567" y="454" width="425" height="1" fill="#808080"/>
<rect x="567" y="435" width="425" height="1" fill="#808080"/>
<text x="566.5" y="565" font-size="14" text-anchor="middle">0</text>
<text x="602.0" y="565" font-size="14" text-anchor="middle">2</text>
<text x="637.5" y="565" font-size="14" text-anchor="middle">4</text>
<text x="673.0" y="565" font-size="14" text-anchor="middle">6</text>
<text x="708.5" y="565" font-size="14" text-anchor="middle">8</text>
<text x="744.0" y="565" font-size="14" text-anchor="middle">10</text>
<text x="779.5" y="565" font-size="14" text-anchor="middle">12</text>
<text x="815.0" y="565" font-size="14" text-anchor="middle">14</text>
<text x="850.5" y="565" font-size="14" text-anchor="middle">16</text>
<text x="886.0" y="565" font-size="14" text-anchor="middle">18</text>
<text x="921.5" y="565" font-size="14" text-anchor="middle">20</text>
<text x="957.0" y="565" font-size="14" text-anchor="middle">22</text>
<text x="992.5" y="565" font-size="14" text-anchor="middle">24</text>
<text x="561" y="553" font-size="14" text-anchor="end">730</text>
<text x="561" y="534" font-size="14" text-anchor="end">735</text>
<text x="561" y="515" font-size="14" text-anchor="end">740</text>
<text x="561" y="497" font-size="14" text-anchor="end">745</text>
<text x="561" y="478" font-size="14" text-anchor="end">750</text>
<text x="561" y="459" font-size="14" text-anchor="end">755</text>
<text x="561" y="440" font-size="14" text-anchor="end">760</text>
<text x="780.2" y="417" font-size="16" text-anchor="middle">Air Pressure</text>
<text transform="translate(532.5,488.0) rotate(-90)" font-size="14" text-anchor="middle">millibars</text>
<text x="779.5" y="582" font-size="16" text-anchor="middle">Local Time (hour)</text>
<polyline points="567.91,464.38 576.06,464.38 577.75,465.64 579.58,464.38 594.34,464.38 595.75,463.25 625.28,463.25 626.69,464.38 632.31,464.38 633.72,465.64 635.83,464.38 647.08,464.38 648.48,465.36 652.00,465.36 653.69,464.38 655.52,465.36 658.33,465.36 659.73,464.38 674.50,464.38 675.91,465.36 678.02,465.36 679.42,466.48 685.47,466.48 686.88,465.36 691.38,465.36 692.78,464.38 694.89,463.25 699.81,463.25 700.00,463.25 714.06,463.25 715.47,464.38 719.69,464.38 720.39,463.25 721.09,464.38 726.72,464.38 727.84,465.36 730.23,465.36 731.64,464.38 739.38,464.38 740.78,463.25 749.22,463.25 750.62,464.38 754.84,464.38 755.97,465.36 759.77,465.36 761.17,466.48 763.28,467.47 766.09,468.45 771.02,468.45 772.42,469.58 775.23,470.28 778.75,470.56 780.16,471.41 783.67,471.69 785.08,472.67 787.89,472.67 791.41,474.50 795.62,474.50 797.03,475.48 800.55,475.48 801.95,474.50 804.77,474.22 806.17,475.48 807.16,474.22 808.28,475.48 817.42,475.48 818.83,474.22 821.64,474.22 823.05,475.48 826.56,475.48 827.97,474.50 831.48,474.50 832.89,473.38 837.81,473.38 838.00,473.38 839.41,472.39 860.50,472.39 861.62,473.38 864.02,473.38 864.72,472.39 865.84,473.38 869.64,473.38 870.62,474.50 872.45,473.38 875.97,473.38 877.09,474.50 878.08,473.38 885.81,473.38 886.52,474.22 892.14,474.22 893.55,473.38 899.88,473.38 900.58,474.22 901.56,473.38 904.09,473.38 905.22,474.22 906.20,473.38 909.02,473.38 909.72,474.50 910.84,473.38 911.83,473.38 912.53,474.22 913.66,473.38 914.64,474.22 920.97,474.22 922.09,475.20 922.66,474.22 924.48,474.22 925.89,475.48 928.70,475.48 930.11,476.61 936.44,476.61 937.56,477.59 938.97,476.61 939.95,476.61 940.94,477.59 942.77,477.59 944.17,476.61 946.28,476.61 947.69,477.59 957.53,477.59 958.66,478.44 976.52,478.44 977.50,477.31 978.34,478.44 981.72,478.44 985.00,478.40 986.00,477.50 987.00,478.40 991.50,478.40" fill="none" stroke="#ff0000" stroke-width="1" shape-rendering="crispEdges"/>
<text x="532" y="22.8" font-size="17.78" text-anchor="middle">Ghost Mine Ranch Weather Observations: 12/16/14 11:55p</text>
</svg>
</body></html>
